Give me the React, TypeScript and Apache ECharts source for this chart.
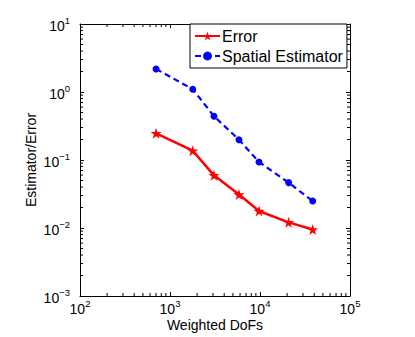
import React, { useEffect, useRef } from "react";
import * as echarts from "echarts";

const dofs = [700, 1790, 3080, 5840, 9750, 20800, 38500];
const errorValues = [0.247, 0.137, 0.0595, 0.031, 0.0178, 0.0121, 0.0095];
const estimatorValues = [2.18, 1.1, 0.44, 0.199, 0.0935, 0.0465, 0.0249];
const seriesNames = ["Error", "Spatial Estimator"];
const xAxisTitle = "Weighted DoFs";
const yAxisTitle = "Estimator/Error";
const minorMultipliers = [2, 3, 4, 5, 6, 7, 8, 9];
const xDecades = [100, 1000, 10000];
const yDecades = [0.001, 0.01, 0.1, 1];

const FONT = "Liberation Sans, Arial, Helvetica, sans-serif";
const STAR =
  "path://M50,0 L61.2,34.5 L97.6,34.5 L68.2,55.9 L79.4,90.5 L50,69.1 L20.6,90.5 L31.8,55.9 L2.4,34.5 L38.8,34.5 Z";

const powLabel = (v: number) => {
  const e = Math.round(Math.log10(v));
  const s = e < 0 ? "\u2212" + Math.abs(e) : String(e);
  return `{b|10}{s|${s}}`;
};

const richStyle = {
  b: { fontSize: 14, fontFamily: FONT, color: "#000", lineHeight: 14, padding: [4, 0, 0, 0] },
  s: { fontSize: 9.5, fontFamily: FONT, color: "#000", lineHeight: 10, padding: [0, 0, 8, 0] },
};

export default function App() {
  const ref = useRef<HTMLDivElement>(null);
  useEffect(() => {
    if (!ref.current) return;
    const chart = echarts.init(ref.current, null, { renderer: "svg" });
    const xMinor: number[][] = [];
    xDecades.forEach((d) => minorMultipliers.forEach((m) => xMinor.push([d * m, 1])));
    const yMinor: number[][] = [];
    yDecades.forEach((d) => minorMultipliers.forEach((m) => yMinor.push([1000, d * m])));

    const axisLine = { show: true, lineStyle: { color: "#000", width: 1 } };
    const tick = { show: true, inside: true, length: 4, lineStyle: { color: "#000", width: 1 } };

    chart.setOption({
      animation: false,
      backgroundColor: "#fff",
      grid: {
        left: 80,
        right: 65,
        top: 24,
        bottom: 41,
        containLabel: false,
        outerBoundsMode: "none",
      },
      legend: {
        data: seriesNames,
        orient: "vertical",
        left: 190,
        top: 24,
        itemWidth: 25,
        itemHeight: 11,
        itemGap: 4,
        padding: [4, 4, 4, 4],
        backgroundColor: "#fff",
        borderColor: "#000",
        borderWidth: 1,
        borderRadius: 0,
        textStyle: { fontSize: 16, fontFamily: FONT, color: "#000", padding: [0, 0, 0, -3] },
      },
      xAxis: [
        {
          type: "log",
          logBase: 10,
          min: 100,
          max: 100000,
          position: "bottom",
          name: xAxisTitle,
          nameLocation: "middle",
          nameGap: 22,
          nameMoveOverlap: false,
          nameTextStyle: { fontSize: 14, fontFamily: FONT, color: "#000" },
          axisLine,
          axisTick: tick,
          splitLine: { show: false },
          axisLabel: { formatter: powLabel, rich: richStyle, margin: 4 },
        },
        {
          type: "log",
          logBase: 10,
          min: 100,
          max: 100000,
          position: "top",
          axisLine,
          axisTick: tick,
          splitLine: { show: false },
          axisLabel: { show: false },
        },
      ],
      yAxis: [
        {
          type: "log",
          logBase: 10,
          min: 0.001,
          max: 10,
          position: "left",
          name: yAxisTitle,
          nameLocation: "middle",
          nameGap: 42,
          nameMoveOverlap: false,
          nameTextStyle: { fontSize: 14, fontFamily: FONT, color: "#000" },
          axisLine,
          axisTick: tick,
          splitLine: { show: false },
          axisLabel: { formatter: powLabel, rich: richStyle, margin: 10 },
        },
        {
          type: "log",
          logBase: 10,
          min: 0.001,
          max: 10,
          position: "right",
          axisLine,
          axisTick: tick,
          splitLine: { show: false },
          axisLabel: { show: false },
        },
      ],
      series: [
        {
          type: "custom",
          silent: true,
          z: 1,
          data: xMinor,
          renderItem: (params: any, api: any) => {
            const px = api.coord([api.value(0), 1])[0];
            const cs = params.coordSys;
            const st = { stroke: "#000", lineWidth: 1 };
            return {
              type: "group",
              children: [
                { type: "line", shape: { x1: px, y1: cs.y + cs.height, x2: px, y2: cs.y + cs.height - 3 }, style: st },
                { type: "line", shape: { x1: px, y1: cs.y, x2: px, y2: cs.y + 3 }, style: st },
              ],
            };
          },
        },
        {
          type: "custom",
          silent: true,
          z: 1,
          data: yMinor,
          renderItem: (params: any, api: any) => {
            const py = api.coord([1000, api.value(1)])[1];
            const cs = params.coordSys;
            const st = { stroke: "#000", lineWidth: 1 };
            return {
              type: "group",
              children: [
                { type: "line", shape: { x1: cs.x, y1: py, x2: cs.x + 3, y2: py }, style: st },
                { type: "line", shape: { x1: cs.x + cs.width, y1: py, x2: cs.x + cs.width - 3, y2: py }, style: st },
              ],
            };
          },
        },
        {
          name: seriesNames[0],
          type: "line",
          data: dofs.map((x, i) => [x, errorValues[i]]),
          symbol: STAR,
          symbolSize: 11,
          itemStyle: { color: "#ff0000" },
          lineStyle: { color: "#ff0000", width: 2.5 },
          z: 3,
        },
        {
          name: seriesNames[1],
          type: "line",
          data: dofs.map((x, i) => [x, estimatorValues[i]]),
          symbol: "circle",
          symbolSize: 7,
          itemStyle: { color: "#0000ff" },
          lineStyle: { color: "#0000ff", width: 2.2, type: [6, 4] },
          z: 3,
        },
      ],
    });
    return () => chart.dispose();
  }, []);
  return (
    <div
      ref={ref}
      style={{ position: "fixed", left: 0, top: 0, width: 415, height: 337 }}
    />
  );
}
